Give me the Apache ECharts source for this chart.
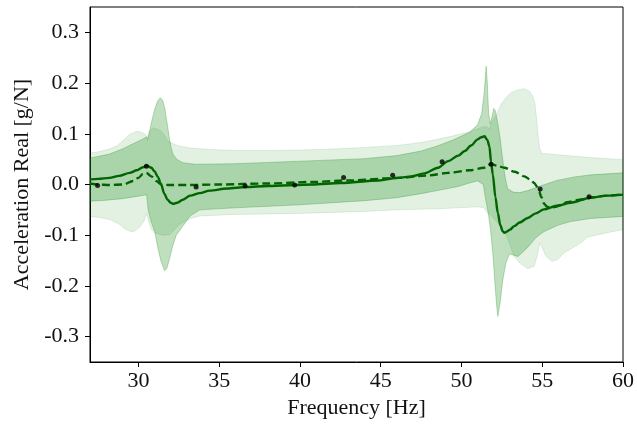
<!DOCTYPE html>
<html><head><meta charset="utf-8">
<script src="https://cdn.jsdelivr.net/npm/echarts@6/dist/echarts.min.js"></script>
<style>html,body{margin:0;padding:0;background:#fff}#c{width:637px;height:428px}</style>
</head><body><div id="c"></div>
<script>
// ---- tick labels ----
const xTicks = [30, 35, 40, 45, 50, 55, 60];
const yTicks = [-0.3, -0.2, -0.1, 0.0, 0.1, 0.2, 0.3];

// ---- model 1 (solid mean) ----
const solidX = [27, 27.5, 28.2, 28.8, 29.46, 29.9, 30.28, 30.53, 30.8, 31.0, 31.2, 31.4, 31.6, 31.8, 32.0, 32.13, 32.4, 32.75, 33.2, 33.8, 34.4, 35.5, 36.65, 38, 40.75, 42.5, 44.86, 46.1, 46.9, 47.7, 48.55, 49.17, 49.8, 50.2, 50.6, 51.0, 51.2, 51.42, 51.6, 51.73, 51.83, 51.94, 52.1, 52.25, 52.4, 52.55, 52.66, 52.8, 53.0, 53.27, 53.6, 54.1, 54.6, 55.1, 55.9, 56.76, 57.99, 59.0, 60];
const solidY = [0.01, 0.011, 0.013, 0.017, 0.023, 0.028, 0.034, 0.037, 0.033, 0.026, 0.015, 0.0, -0.018, -0.03, -0.036, -0.038, -0.036, -0.03, -0.022, -0.017, -0.012, -0.008, -0.005, -0.003, 0.0, 0.003, 0.008, 0.013, 0.016, 0.022, 0.033, 0.046, 0.057, 0.066, 0.077, 0.089, 0.093, 0.095, 0.088, 0.075, 0.045, 0.02, -0.025, -0.056, -0.08, -0.092, -0.095, -0.093, -0.089, -0.082, -0.075, -0.066, -0.057, -0.049, -0.042, -0.036, -0.026, -0.022, -0.02];

// ---- model 2 (dashed mean) ----
const dashX = [27, 27.5, 28.2, 29.05, 29.67, 30.0, 30.28, 30.49, 30.8, 31.1, 31.41, 31.93, 33, 35, 38, 40.75, 43, 46.1, 48, 49.17, 50.5, 51.4, 51.83, 52.2, 52.66, 53.3, 53.89, 54.3, 54.5, 54.7, 54.8, 54.95, 55.12, 55.3, 55.53, 55.8, 56.1, 56.56, 57.3, 58.2, 59, 60];
const dashY = [0.002, 0.0, -0.001, 0.0, 0.007, 0.013, 0.021, 0.023, 0.016, 0.007, 0.0, -0.001, -0.001, 0.0, 0.002, 0.005, 0.008, 0.013, 0.018, 0.023, 0.028, 0.033, 0.04, 0.037, 0.033, 0.025, 0.016, 0.009, 0.003, -0.005, -0.013, -0.025, -0.038, -0.044, -0.046, -0.044, -0.041, -0.035, -0.03, -0.025, -0.022, -0.019];

// ---- measured points ----
const pointX = [27.47, 30.49, 33.57, 36.6, 39.67, 42.7, 45.74, 48.8, 51.83, 54.87, 57.9];
const pointY = [-0.002, 0.036, -0.005, -0.003, -0.001, 0.014, 0.018, 0.045, 0.040, -0.009, -0.024];

// ---- wide (light) band ----
const aUpX = [27, 27.6, 28.2, 28.7, 29.1, 29.46, 29.9, 30.2, 30.45, 30.55, 30.65, 30.9, 31.35, 31.6, 31.82, 32.1, 32.5, 33.2, 34.4, 36, 38, 40, 42, 44, 46, 47.5, 48.5, 49.5, 50.5, 51.0, 51.5, 51.75, 51.85, 52.0, 52.2, 52.45, 52.8, 53.07, 53.5, 53.9, 54.2, 54.4, 54.55, 54.65, 54.75, 54.85, 55.0, 55.5, 56.5, 58, 60];
const aUpY = [0.062, 0.065, 0.07, 0.077, 0.088, 0.099, 0.105, 0.103, 0.098, 0.092, 0.104, 0.112, 0.107, 0.098, 0.086, 0.081, 0.076, 0.072, 0.069, 0.067, 0.067, 0.068, 0.07, 0.073, 0.077, 0.083, 0.089, 0.096, 0.104, 0.11, 0.115, 0.11, 0.122, 0.13, 0.14, 0.158, 0.173, 0.181, 0.187, 0.189, 0.184, 0.175, 0.16, 0.13, 0.095, 0.07, 0.061, 0.06, 0.057, 0.053, 0.049];
const aLoX = [27, 27.6, 28.2, 28.8, 29.2, 29.46, 29.7, 30.08, 30.35, 30.5, 30.6, 30.8, 31.0, 31.5, 31.93, 32.2, 32.54, 33.2, 33.8, 36, 40, 44, 46, 48.5, 51.0, 51.4, 51.6, 51.8, 52.2, 52.66, 53.0, 53.27, 53.6, 54.1, 54.5, 54.7, 54.85, 55.0, 55.2, 55.6, 56.0, 56.35, 57.4, 57.8, 59, 60];
const aLoY = [-0.063, -0.065, -0.069, -0.078, -0.088, -0.092, -0.093, -0.084, -0.072, -0.057, -0.07, -0.088, -0.095, -0.1, -0.099, -0.09, -0.079, -0.067, -0.062, -0.059, -0.057, -0.053, -0.05, -0.048, -0.044, -0.046, -0.056, -0.06, -0.074, -0.089, -0.12, -0.142, -0.155, -0.166, -0.161, -0.14, -0.115, -0.125, -0.14, -0.152, -0.147, -0.135, -0.115, -0.104, -0.095, -0.089];

// ---- narrow (medium) band ----
const bUpX = [27, 28.2, 29.0, 29.77, 30.3, 30.5, 30.58, 30.66, 30.8, 31.0, 31.2, 31.35, 31.5, 31.62, 31.82, 31.93, 32.03, 32.13, 32.4, 32.75, 33.5, 36, 40, 44, 46, 47.5, 48.5, 49.5, 50.5, 51.0, 51.25, 51.4, 51.53, 51.6, 51.68, 51.78, 51.9, 52.0, 52.1, 52.25, 52.4, 52.55, 52.7, 52.85, 53.2, 53.6, 54.1, 54.7, 55.9, 57, 58, 60];
const bUpY = [0.052, 0.06, 0.07, 0.082, 0.09, 0.094, 0.088, 0.1, 0.122, 0.148, 0.165, 0.171, 0.166, 0.152, 0.112, 0.088, 0.072, 0.06, 0.049, 0.043, 0.04, 0.041, 0.046, 0.051, 0.057, 0.066, 0.076, 0.088, 0.103, 0.118, 0.14, 0.18, 0.233, 0.2, 0.14, 0.12, 0.135, 0.15, 0.145, 0.12, 0.09, 0.05, 0.015, -0.008, -0.015, -0.016, -0.012, -0.005, 0.008, 0.015, 0.019, 0.023];
const bLoX = [27, 28, 29, 30, 30.5, 30.6, 30.75, 31.0, 31.2, 31.4, 31.62, 31.75, 31.93, 32.13, 32.34, 32.75, 33.2, 33.8, 36, 40, 44, 46, 47.5, 48.5, 49.8, 50.5, 51.0, 51.35, 51.5, 51.65, 51.8, 51.95, 52.08, 52.18, 52.25, 52.4, 52.55, 52.75, 52.97, 53.5, 54.1, 54.6, 55.1, 56, 56.76, 58, 60];
const bLoY = [-0.033, -0.031, -0.028, -0.023, -0.02, -0.05, -0.07, -0.092, -0.125, -0.152, -0.17, -0.166, -0.146, -0.12, -0.1, -0.082, -0.062, -0.05, -0.046, -0.04, -0.032, -0.026, -0.018, -0.012, -0.004, 0.003, 0.007, 0.0, -0.03, -0.055, -0.09, -0.14, -0.2, -0.24, -0.26, -0.232, -0.19, -0.155, -0.137, -0.142, -0.124, -0.105, -0.093, -0.08, -0.073, -0.067, -0.063];

const FONT = 'Liberation Serif';
const TXT = '#111';
const LINE = '#006400';

function zip(xs, ys) { return xs.map((x, i) => [x, ys[i]]); }

function band(upX, upY, loX, loY, color, z) {
  return {
    type: 'custom', clip: true, z: z, silent: true,
    data: [[upX[0], upY[0]]],
    encode: { x: 0, y: 1 },
    renderItem: function (params, api) {
      const pts = [];
      for (let i = 0; i < upX.length; i++) pts.push(api.coord([upX[i], upY[i]]));
      for (let i = loX.length - 1; i >= 0; i--) pts.push(api.coord([loX[i], loY[i]]));
      return { type: 'polygon', shape: { points: pts }, style: { fill: color, stroke: color, lineWidth: 1 } };
    }
  };
}

const chart = echarts.init(document.getElementById('c'), null, { renderer: 'canvas' });
chart.setOption({
  animation: false,
  backgroundColor: '#fff',
  grid: { left: 90, right: 13, top: 7, bottom: 66, show: true, borderColor: '#000', borderWidth: 1, backgroundColor: 'transparent' },
  xAxis: {
    type: 'value', min: 27, max: 60,
    axisLine: { show: true, onZero: false, lineStyle: { color: '#000', width: 1 } },
    axisTick: { show: true, length: 5, customValues: xTicks, lineStyle: { color: '#000', width: 1 } },
    axisLabel: { customValues: xTicks, formatter: v => String(v), fontFamily: FONT, fontSize: 22, color: TXT, margin: 8 },
    splitLine: { show: false },
    name: 'Frequency [Hz]', nameLocation: 'middle', nameGap: 34,
    nameTextStyle: { fontFamily: FONT, fontSize: 22, color: TXT }
  },
  yAxis: {
    type: 'value', min: -0.35, max: 0.35,
    axisLine: { show: true, onZero: false, lineStyle: { color: '#000', width: 1 } },
    axisTick: { show: true, length: 5, customValues: yTicks, lineStyle: { color: '#000', width: 1 } },
    axisLabel: { customValues: yTicks, formatter: v => v.toFixed(1), fontFamily: FONT, fontSize: 22, color: TXT, margin: 11 },
    splitLine: { show: false },
    name: 'Acceleration Real [g/N]', nameLocation: 'middle', nameGap: 55,
    nameTextStyle: { fontFamily: FONT, fontSize: 22, color: TXT }
  },
  series: [
    band(aUpX, aUpY, aLoX, aLoY, 'rgba(0,128,0,0.11)', 1),
    band(bUpX, bUpY, bLoX, bLoY, 'rgba(0,128,0,0.25)', 2),
    {
      type: 'line', z: 4, data: zip(dashX, dashY), showSymbol: false, smooth: 0.3, smoothMonotone: 'x',
      lineStyle: { color: LINE, width: 2.4, type: [8, 4] }, silent: true
    },
    {
      type: 'line', z: 5, data: zip(solidX, solidY), showSymbol: false, smooth: 0.3, smoothMonotone: 'x',
      lineStyle: { color: LINE, width: 2.4 }, silent: true
    },
    {
      type: 'scatter', z: 6, data: zip(pointX, pointY), symbolSize: 5,
      itemStyle: { color: '#000' }, silent: true
    }
  ]
});
</script>
</body></html>
